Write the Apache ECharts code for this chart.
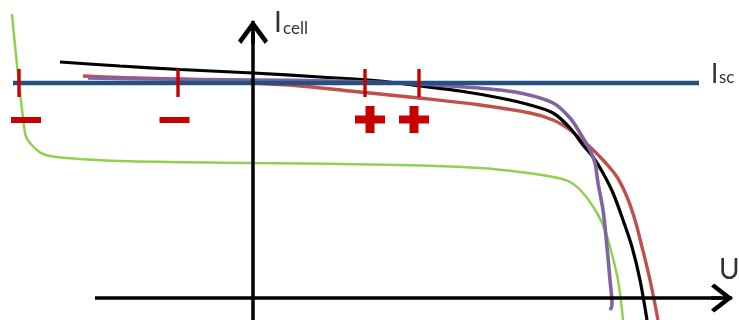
<!DOCTYPE html>
<html>
<head>
<meta charset="utf-8">
<script src="https://cdn.jsdelivr.net/npm/echarts@6/dist/echarts.min.js"></script>
<style>html,body{margin:0;padding:0;background:#fff}#c{width:739px;height:320px}</style>
</head>
<body>
<div id="c"></div>
<script>
// Data in chart units: U (voltage, arbitrary), I (current, arbitrary)
var blackCurve = [[-193,236],[-133,232],[-73,228.5],[0,225],[67,221],[127,217],[167,212],[207,207],[247,200],[277,193],[300,185],[317,170],[330,153],[340,141],[350,125],[360,105],[370,78],[379,51],[387,18],[394,-22]];
var redCurve = [[-170,222],[-133,220.5],[-73,219],[0,215],[47,212],[97,207],[166,200],[227,193],[277,185],[300,178],[317,168],[337,151],[350,138],[364,121],[374,101],[382,78],[389,51],[397,18],[405,-22]];
var purpleCurve = [[-165,220],[-103,219],[0,218],[77,217],[147,215],[197,212],[237,209],[267,205],[300,195],[317,180],[327,165],[337,148],[342,135],[345,115],[350,88],[354,51],[357,18],[359,-7],[357,-12]];
var greenCurve = [[-241,284],[-228,165],[-223,155],[-210,144],[-186,140],[-133,137],[0,135],[147,133],[227,130],[267,126],[300,121],[317,116],[330,105],[344,85],[352,68],[357,51],[365,18],[370,-22]];
var iscLine = [[-240,215],[446,215]];
var tickMarks = [[-234,215],[-75,215],[112,215],[166,215]];
var minusSigns = [[-227,178],[-78.5,178]];
var plusSigns = [[117,178.5],[161,178.5]];
var uAxisLine = [[-158,0],[469,0]];
var iAxisLine = [[0,-22],[0,266]];

var chevron = 'path://M15 0 L30 20.5 L26.8 24 L15 8 L3.2 24 L0 20.5 Z M13.2 1 L16.8 1 L16.8 24 L13.2 24 Z';
var plusPath = 'path://M10.5 0 H19.5 V9.5 H30 V17.5 H19.5 V27 H10.5 V17.5 H0 V9.5 H10.5 Z';
var FONT = 'Lato, "Open Sans", sans-serif';
var TXT = '#333333';

var chart = echarts.init(document.getElementById('c'), null, {renderer: 'canvas'});
function curve(data, color, width) {
  return {type: 'line', data: data, smooth: 0.35, symbol: 'none', clip: false,
    lineStyle: {color: color, width: width}, z: 3, silent: true};
}
function axisArrow(line, size) {
  return [{coord: line[0], symbol: 'none'}, {coord: line[1], symbol: chevron, symbolSize: size}];
}
chart.setOption({
  animation: false,
  grid: {left: 0, right: 0, top: 0, bottom: 0, containLabel: false},
  xAxis: {type: 'value', min: -253, max: 486, show: false},
  yAxis: {type: 'value', min: -22, max: 298, show: false},
  series: [
    curve(greenCurve, '#92D050', 2.5),
    curve(redCurve, '#C0504D', 3.4),
    curve(blackCurve, '#000000', 3.2),
    curve(purpleCurve, '#8064A2', 3.6),
    {type: 'line', data: iscLine, symbol: 'none', clip: false, lineStyle: {color: '#264F82', width: 4.5}, z: 4, silent: true},
    {type: 'scatter', data: tickMarks, symbol: 'rect', symbolSize: [3.4, 28], clip: false, itemStyle: {color: '#C80000', opacity: 1}, z: 6, silent: true},
    {type: 'scatter', data: minusSigns, symbol: 'rect', symbolSize: [30, 6], clip: false, itemStyle: {color: '#C80000', opacity: 1}, z: 6, silent: true},
    {type: 'scatter', data: plusSigns, symbol: plusPath, symbolSize: [30, 27], clip: false, itemStyle: {color: '#C80000', opacity: 1}, z: 6, silent: true},
    {type: 'line', data: [], z: 10, silent: true,
      markLine: {silent: true, animation: false, label: {show: false}, emphasis: {disabled: true},
        lineStyle: {color: '#000', width: 3.5, type: 'solid', opacity: 1},
        itemStyle: {color: '#000'},
        data: [axisArrow(uAxisLine, [29, 22]), axisArrow(iAxisLine, [30, 24])]}}
  ],
  graphic: [
    {type: 'text', x: 274, y: 23, style: {text: 'I', font: '28px ' + FONT, fill: TXT, verticalAlign: 'middle', align: 'left'}},
    {type: 'text', x: 283, y: 29, style: {text: 'cell', font: '17px ' + FONT, fill: TXT, verticalAlign: 'middle', align: 'left'}},
    {type: 'text', x: 711, y: 74.5, style: {text: 'I', font: '26px ' + FONT, fill: TXT, verticalAlign: 'middle', align: 'left'}},
    {type: 'text', x: 719, y: 78, style: {text: 'sc', font: '17px ' + FONT, fill: TXT, verticalAlign: 'middle', align: 'left'}},
    {type: 'text', x: 719, y: 270, style: {text: 'U', font: '28px ' + FONT, fill: TXT, verticalAlign: 'middle', align: 'left'}}
  ]
});
</script>
</body>
</html>
